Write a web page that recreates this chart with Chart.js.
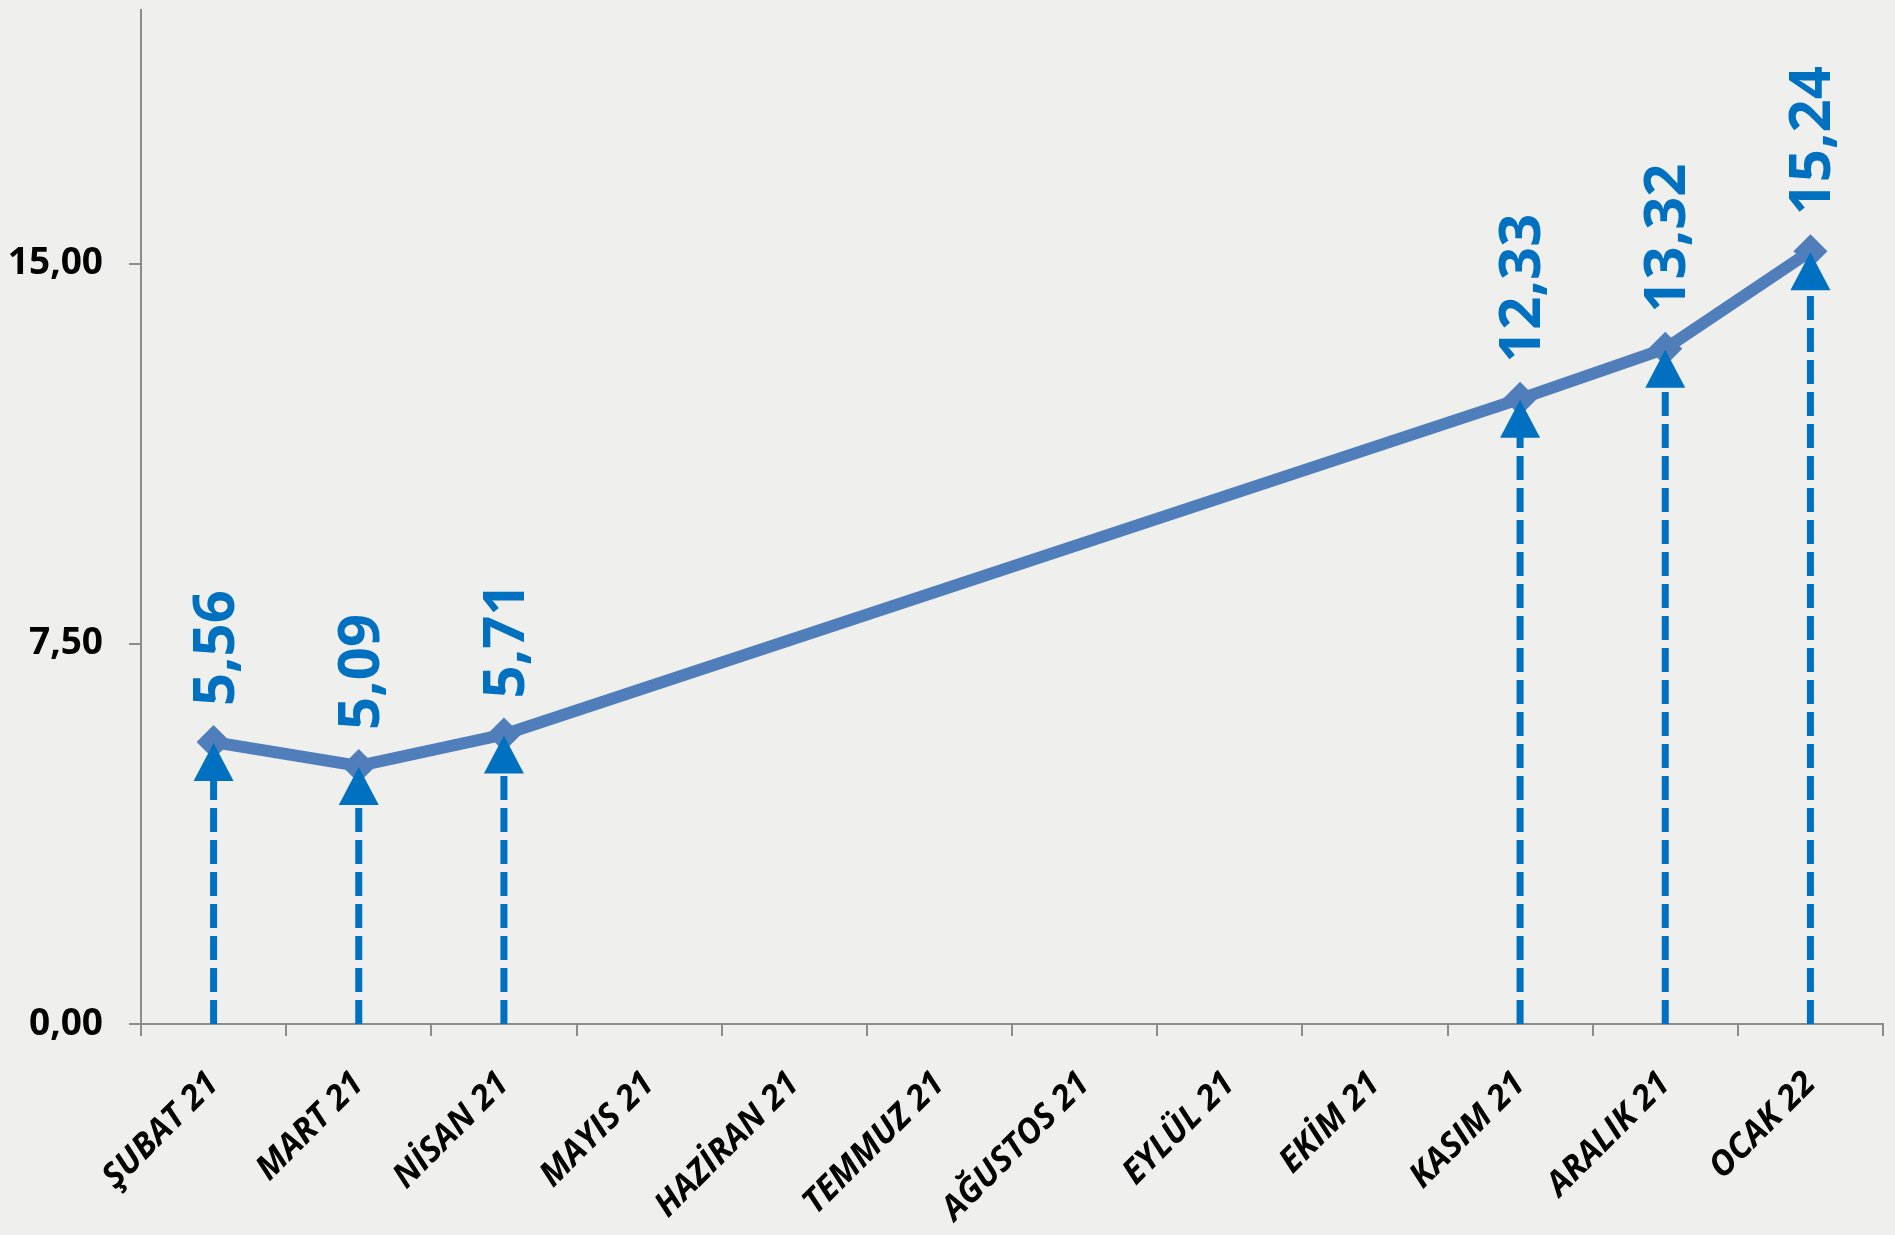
<!DOCTYPE html>
<html lang="tr">
<head>
<meta charset="utf-8">
<title>Aylık değişim</title>
<script src="https://cdn.jsdelivr.net/npm/chart.js@4.4.1/dist/chart.umd.min.js"></script>
<style>
    html, body { margin: 0; padding: 0; background: #efefee; }
    #wrap { width: 1895px; height: 1235px; position: relative; }
</style>
</head>
<body>
<div id="wrap"><canvas id="chart"></canvas></div>
<script>
// Veriler
const months = ['ŞUBAT 21', 'MART 21', 'NİSAN 21', 'MAYIS 21', 'HAZİRAN 21', 'TEMMUZ 21',
                'AĞUSTOS 21', 'EYLÜL 21', 'EKİM 21', 'KASIM 21', 'ARALIK 21', 'OCAK 22'];
const values = [5.56, 5.09, 5.71, null, null, null, null, null, null, 12.33, 13.32, 15.24];
const yTicks = [0, 7.5, 15];
const yMax = 20;

const FONT = '"Open Sans", "DejaVu Sans", sans-serif';
const BLUE = '#0070C0';
const LINE = '#4F7EBB';
const AXIS = '#8c8c8c';

const fmt = v => v.toFixed(2).replace('.', ',');

// Oklar ve değer etiketleri
const arrowPlugin = {
    id: 'arrows',
    afterDatasetsDraw(chart) {
        const ctx = chart.ctx;
        const meta = chart.getDatasetMeta(0);
        const base = chart.scales.y.getPixelForValue(0);
        ctx.save();
        meta.data.forEach((pt, i) => {
            if (values[i] == null) return;
            const x = pt.x, y = pt.y;
            // kesikli gövde
            ctx.strokeStyle = BLUE;
            ctx.lineWidth = 7;
            ctx.setLineDash([24, 8]);
            ctx.beginPath();
            ctx.moveTo(x, base);
            ctx.lineTo(x, y + 36);
            ctx.stroke();
            // ok başı
            ctx.setLineDash([]);
            ctx.fillStyle = BLUE;
            ctx.beginPath();
            ctx.moveTo(x, y + 1);
            ctx.lineTo(x - 20, y + 39);
            ctx.lineTo(x + 20, y + 39);
            ctx.closePath();
            ctx.fill();
            // etiket
            ctx.save();
            ctx.translate(x + 20, y - 36);
            ctx.rotate(-Math.PI / 2);
            ctx.font = 'bold 58px ' + FONT;
            ctx.textAlign = 'left';
            ctx.textBaseline = 'alphabetic';
            ctx.fillText(fmt(values[i]), 0, 0);
            ctx.restore();
        });
        ctx.restore();
    }
};

const ctx = document.getElementById('chart').getContext('2d');
new Chart(ctx, {
    type: 'line',
    data: {
        labels: months,
        datasets: [{
            data: values,
            borderColor: LINE,
            borderWidth: 12,
            backgroundColor: LINE,
            pointStyle: 'rectRot',
            pointRadius: 17,
            pointBorderWidth: 0,
            pointBackgroundColor: LINE,
            spanGaps: true,
            tension: 0
        }]
    },
    options: {
        responsive: true,
        maintainAspectRatio: false,
        animation: false,
        layout: { autoPadding: false, padding: { top: 10, right: 12, left: 0, bottom: 0 } },
        plugins: {
            legend: { display: false },
            tooltip: { enabled: false }
        },
        scales: {
            x: {
                type: 'category',
                offset: true,
                grid: {
                    offset: true,
                    drawOnChartArea: false,
                    drawTicks: true,
                    tickLength: 12,
                    color: AXIS,
                    lineWidth: 2
                },
                border: { color: AXIS, width: 2 },
                ticks: {
                    autoSkip: false,
                    maxRotation: 45,
                    minRotation: 45,
                    padding: 28,
                    color: '#000',
                    font: { family: FONT, size: 34, weight: 'bold', style: 'italic' }
                },
                afterFit: s => {
                    s.height = 211;
                    s.paddingLeft = 0;
                    s.paddingRight = 0;
                }
            },
            y: {
                min: 0,
                max: yMax,
                afterBuildTicks: s => { s.ticks = yTicks.map(v => ({ value: v })); },
                grid: {
                    drawOnChartArea: false,
                    drawTicks: true,
                    tickLength: 12,
                    color: AXIS,
                    lineWidth: 2
                },
                border: { color: AXIS, width: 2 },
                ticks: {
                    padding: 26,
                    color: '#000',
                    font: { family: FONT, size: 37, weight: 'bold' },
                    callback: v => fmt(v)
                },
                afterFit: s => {
                    s.width = 141;
                    s.paddingTop = 0;
                    s.paddingBottom = 0;
                }
            }
        }
    },
    plugins: [arrowPlugin]
});
</script>
</body>
</html>
